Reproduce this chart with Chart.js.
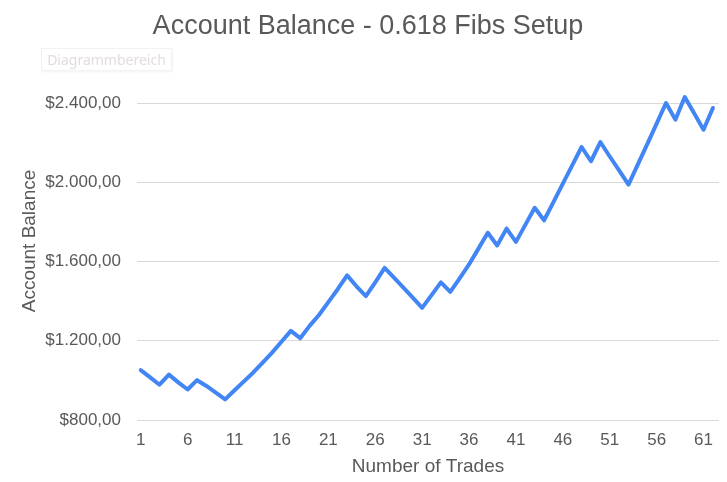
<!DOCTYPE html>
<html>
<head>
<meta charset="utf-8">
<script src="https://cdn.jsdelivr.net/npm/chart.js@4.4.1/dist/chart.umd.min.js"></script>
<style>
  html, body { margin: 0; padding: 0; background: #ffffff; }
  #wrap { position: relative; width: 727px; height: 482px; }
  #tip {
    position: absolute; left: 41px; top: 48px; width: 129px; height: 21px;
    border: 1px solid #f3f1f1; box-shadow: 1px 1px 2px rgba(0,0,0,0.05);
    font-family: "Noto Sans", "Open Sans", sans-serif; font-size: 14px;
    color: #e3dddd; line-height: 21px; text-align: center; background: #fff;
  }
</style>
</head>
<body>
<div id="wrap">
  <canvas id="c" width="727" height="482"></canvas>
  <div id="tip">Diagrammbereich</div>
</div>
<script>
const tradeNumbers = [1,2,3,4,5,6,7,8,9,10,11,12,13,14,15,16,17,18,19,20,21,22,23,24,25,26,27,28,29,30,31,32,33,34,35,36,37,38,39,40,41,42,43,44,45,46,47,48,49,50,51,52,53,54,55,56,57,58,59,60,61,62];
const balance = [1052,1015,978,1029,990,954,1001,972,938,904,950,995,1040,1090,1140,1195,1250,1213,1275,1330,1395,1460,1530,1475,1425,1495,1568,1518,1468,1418,1366,1430,1495,1447,1515,1585,1665,1745,1681,1766,1699,1785,1871,1808,1900,1993,2085,2178,2106,2203,2130,2060,1988,2090,2192,2296,2400,2316,2430,2348,2265,2375];
const xTickLabels = [1,6,11,16,21,26,31,36,41,46,51,56,61];
const yTickValues = [800,1200,1600,2000,2400];

function fmtMoney(v) {
  const s = Math.round(v).toString().replace(/\B(?=(\d{3})+(?!\d))/g, '.');
  return '$' + s + ',00';
}

const FONT = '"Liberation Sans", Arial, sans-serif';
const TXT = '#595959';

const yTitlePlugin = {
  id: 'yTitle',
  afterDraw(chart) {
    const ctx = chart.ctx;
    ctx.save();
    ctx.translate(30, 241);
    ctx.rotate(-Math.PI / 2);
    ctx.font = '19px ' + FONT;
    ctx.fillStyle = TXT;
    ctx.textAlign = 'center';
    ctx.textBaseline = 'middle';
    ctx.fillText('Account Balance', 0, 0);
    ctx.restore();
  }
};

new Chart(document.getElementById('c'), {
  type: 'line',
  data: {
    datasets: [{
      label: 'Account Balance',
      data: tradeNumbers.map((t, i) => ({ x: t, y: balance[i] })),
      borderColor: '#4285f4',
      borderWidth: 4,
      pointRadius: 0,
      tension: 0,
      fill: false,
      clip: false,
      borderJoinStyle: 'round',
      borderCapStyle: 'round'
    }]
  },
  plugins: [yTitlePlugin],
  options: {
    responsive: false,
    animation: false,
    devicePixelRatio: 1,
    layout: { padding: { left: 17, right: 8, top: 0, bottom: 0 } },
    plugins: {
      legend: { display: false },
      tooltip: { enabled: false },
      title: {
        display: true,
        text: 'Account Balance - 0.618 Fibs Setup',
        color: TXT,
        font: { family: FONT, size: 27, weight: 'normal' },
        padding: { top: 10, bottom: 60.6 }
      }
    },
    scales: {
      x: {
        type: 'linear',
        min: 0.6,
        max: 62.65,
        afterBuildTicks: (scale) => { scale.ticks = xTickLabels.map(v => ({ value: v })); },
        afterFit: (scale) => { scale.height = 62; },
        grid: { display: false, drawTicks: false },
        border: { display: false },
        ticks: {
          autoSkip: false,
          maxRotation: 0,
          color: TXT,
          padding: 10,
          font: { family: FONT, size: 17 },
          callback: (v) => String(v)
        },
        title: {
          display: true,
          text: 'Number of Trades',
          color: TXT,
          font: { family: FONT, size: 19 },
          padding: { top: 5, bottom: 4 }
        }
      },
      y: {
        min: 800,
        max: 2400,
        afterBuildTicks: (scale) => { scale.ticks = yTickValues.map(v => ({ value: v })); },
        afterFit: (scale) => { scale.width = 120; },
        grid: { color: '#d9d9d9', lineWidth: 1, drawTicks: false },
        border: { display: false },
        ticks: {
          color: TXT,
          padding: 16,
          font: { family: FONT, size: 17 },
          callback: (v) => fmtMoney(v)
        },
        title: { display: false }
      }
    }
  }
});
</script>
</body>
</html>
